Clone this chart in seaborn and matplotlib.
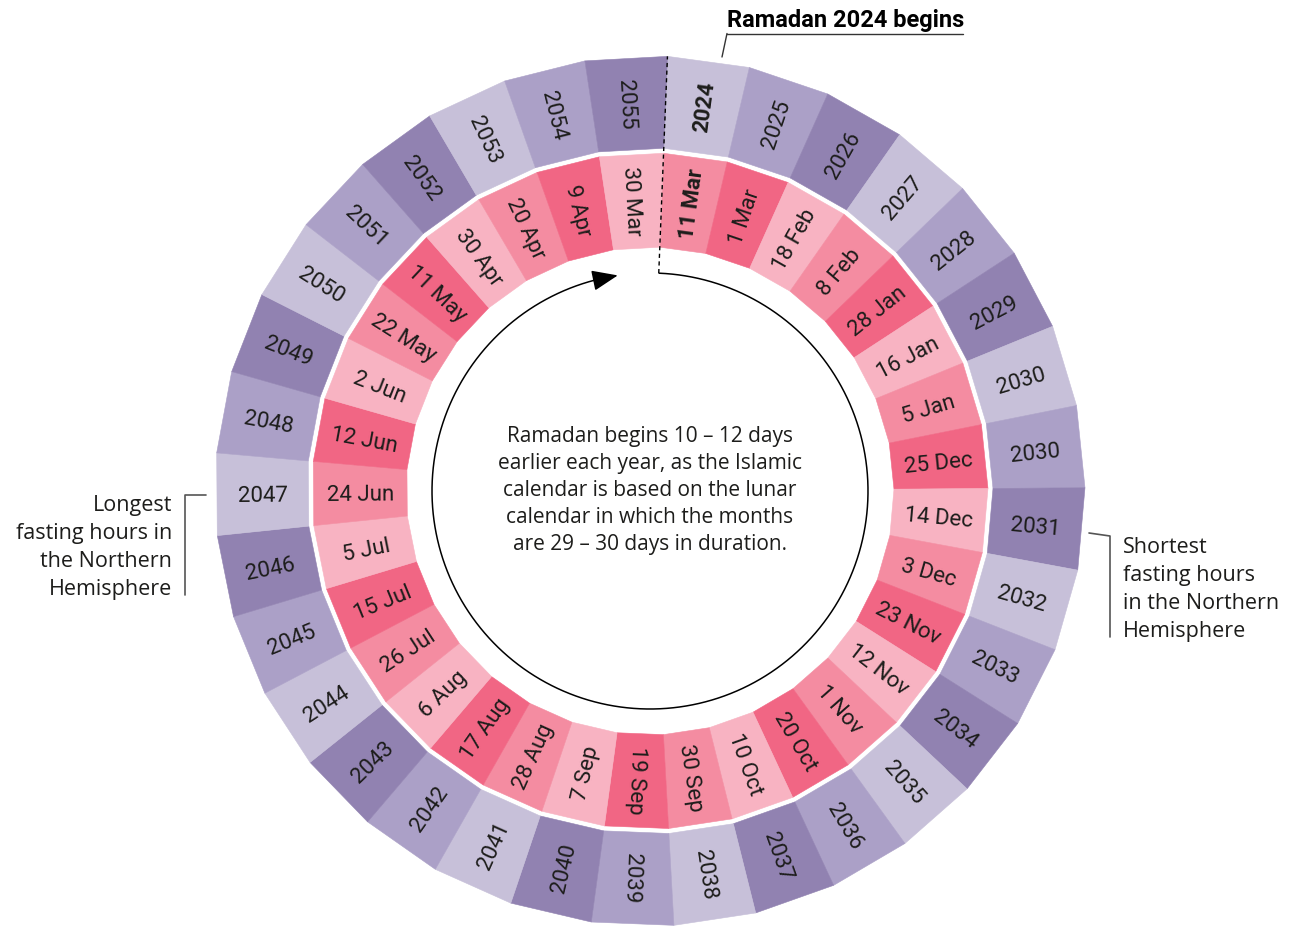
import numpy as np
import matplotlib.pyplot as plt
import seaborn as sns
from matplotlib.lines import Line2D

years = ['2024', '2025', '2026', '2027', '2028', '2029', '2030', '2030', '2031', '2032',
         '2033', '2034', '2035', '2036', '2037', '2038', '2039', '2040', '2041', '2042',
         '2043', '2044', '2045', '2046', '2047', '2048', '2049', '2050', '2051', '2052',
         '2053', '2054', '2055']
start_dates = ['11 Mar', '1 Mar', '18 Feb', '8 Feb', '28 Jan', '16 Jan', '5 Jan', '25 Dec',
               '14 Dec', '3 Dec', '23 Nov', '12 Nov', '1 Nov', '20 Oct', '10 Oct', '30 Sep',
               '19 Sep', '7 Sep', '28 Aug', '17 Aug', '6 Aug', '26 Jul', '15 Jul', '5 Jul',
               '24 Jun', '12 Jun', '2 Jun', '22 May', '11 May', '30 Apr', '20 Apr', '9 Apr',
               '30 Mar']

center_note = ['Ramadan begins 10 \u2013 12 days',
               'earlier each year, as the Islamic',
               'calendar is based on the lunar',
               'calendar in which the months',
               'are 29 \u2013 30 days in duration.']
longest_note = ['Longest', 'fasting hours in', 'the Northern', 'Hemisphere']
shortest_note = ['Shortest', 'fasting hours', 'in the Northern', 'Hemisphere']

sns.set_theme(style='white')
plt.rcParams['font.family'] = ['Roboto', 'DejaVu Sans']
note_font = ['Open Sans', 'DejaVu Sans']

year_colors = sns.color_palette(['#c7c0d9', '#aba0c7', '#9182b1'])
date_colors = sns.color_palette(['#f48ca1', '#f16684', '#f8b3c2'])
ink = '#1d1d1b'

W, H = 1299, 926
cx, cy = 650, 491
rmax = 440


def px(x, y):
    return x / W, 1 - y / H


fig = plt.figure(figsize=(W / 100, H / 100), dpi=100)
fig.patch.set_facecolor('white')
ax = fig.add_axes([(cx - rmax) / W, (H - cy - rmax) / H, 2 * rmax / W, 2 * rmax / H],
                  projection='polar')
ax.set_theta_zero_location('N')
ax.set_theta_direction(-1)
ax.set_ylim(0, rmax)
ax.set_axis_off()

n = len(years)
step = 2 * np.pi / n
offset = np.deg2rad(2.3)
rings = [(years, year_colors, 343, 435), (start_dates, date_colors, 244, 338)]

for i in range(n):
    t0 = offset + i * step
    t1 = t0 + step
    tm = t0 + step / 2
    deg = np.rad2deg(tm)
    rot = 90 - deg if deg < 185 else 270 - deg
    for labels, cols, r0, r1 in rings:
        c = cols[i % 3]
        ax.fill([t0, t1, t1, t0], [r0, r0, r1, r1], color=c, ec=c, lw=0.4)
        ax.text(tm, (r0 + r1) / 2 * 0.996, labels[i], rotation=rot, rotation_mode='anchor',
                ha='center', va='center_baseline', fontsize=16, color=ink,
                fontweight='bold' if i == 0 else 'normal')

# circle with arrow
arc_t = np.deg2rad(np.linspace(2.4, 348, 400))
ax.plot(arc_t, np.full_like(arc_t, 218), color='black', lw=1.1)
ax.annotate('', xy=(np.deg2rad(351.5), 218), xytext=(np.deg2rad(345), 218),
            arrowprops=dict(arrowstyle='-|>,head_length=0.8,head_width=0.32',
                            mutation_scale=20, color='black', lw=1.1,
                            shrinkA=0, shrinkB=0))
ax.plot([offset, offset], [218, 435], color='black', lw=1, ls=(0, (3, 2.5)))

# centre text
for k, line in enumerate(center_note):
    fig.text(*px(650, 442 + k * 27), line, ha='center', va='baseline',
             fontsize=15, color=ink, family=note_font)

# title callout
fig.text(*px(727, 27), 'Ramadan 2024 begins', ha='left', va='baseline',
         fontsize=17, fontweight='bold', color='black')
for xs, ys in [([727, 963], [33.5, 33.5]), ([727, 722], [33.5, 57])]:
    fig.add_artist(Line2D([x / W for x in xs], [1 - y / H for y in ys],
                          color='#333333', lw=1))

# side notes
for k, line in enumerate(longest_note):
    fig.text(*px(172, 511 + k * 28), line, ha='right', va='baseline',
             fontsize=15.5, color=ink, family=note_font)
fig.add_artist(Line2D([x / W for x in [206, 185, 185]],
                      [1 - y / H for y in [495, 495, 595]], color='#555555', lw=1.2))

for k, line in enumerate(shortest_note):
    fig.text(*px(1123, 553 + k * 28), line, ha='left', va='baseline',
             fontsize=15.5, color=ink, family=note_font)
fig.add_artist(Line2D([x / W for x in [1089, 1110, 1110]],
                      [1 - y / H for y in [533, 536, 637]], color='#555555', lw=1.2))

fig.savefig('out.png', dpi=100)
